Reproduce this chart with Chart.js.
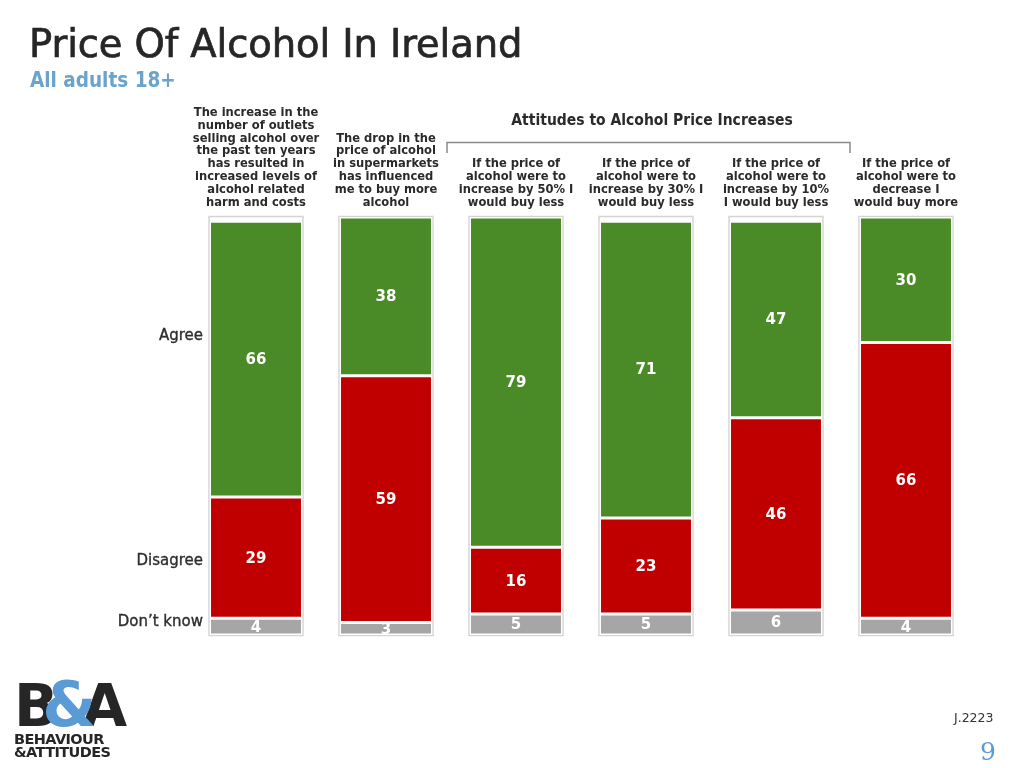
<!DOCTYPE html>
<html>
<head>
<meta charset="utf-8">
<script src="https://cdn.jsdelivr.net/npm/chart.js@4"></script>
<style>
  html, body { margin:0; padding:0; background:#fff; }
  body { width:1024px; height:768px; position:relative; overflow:hidden; font-family:"DejaVu Sans",sans-serif; }
  #c { position:absolute; left:0; top:0; }
  .t { position:absolute; white-space:nowrap; }
  #title { left:29px; top:21px; font-size:38.5px; color:#262626; letter-spacing:-0.1px; -webkit-text-stroke:0.7px #262626; }
  #sub { left:30px; top:68px; font-size:20.5px; font-weight:bold; color:#6aa3cc; font-family:"DejaVu Sans Condensed",sans-serif; }
  .side { right:821px; font-size:15px; color:#2e2e2e; font-family:"DejaVu Sans",sans-serif; -webkit-text-stroke:0.35px #2e2e2e; }
  #job { left:954px; top:710px; font-size:12.5px; color:#333; font-family:"DejaVu Sans",sans-serif; }
  #page { left:980px; top:737px; font-size:25px; color:#5b9bd5; font-family:"DejaVu Serif",serif; }
  #logo { left:14px; top:677px; }
  #logo .big { font-family:"DejaVu Sans",sans-serif; font-weight:bold; font-size:58px; line-height:56px; color:#262626; }
  #logo .big span { display:inline-block; }
  #logo .amp { color:#5b9bd5; margin-left:-16px; margin-right:-14px; position:relative; z-index:1; font-size:62px; }
  #logo .a { position:relative; z-index:0; }
  #logo .small { font-family:"DejaVu Sans",sans-serif; font-weight:bold; font-size:14.5px; line-height:12.5px; color:#262626; letter-spacing:-0.6px; margin-top:-1px; }
</style>
</head>
<body>
<canvas id="c" width="1024" height="768"></canvas>
<div class="t" id="title">Price Of Alcohol In Ireland</div>
<div class="t" id="sub">All adults 18+</div>
<div class="t side" style="top:326px">Agree</div>
<div class="t side" style="top:551px">Disagree</div>
<div class="t side" style="top:612px">Don’t know</div>
<div class="t" id="job">J.2223</div>
<div class="t" id="page">9</div>
<div class="t" id="logo">
  <div class="big"><span>B</span><span class="amp">&amp;</span><span class="a">A</span></div>
  <div class="small">BEHAVIOUR<br>&amp;ATTITUDES</div>
</div>
<script>
const categoryLines = [
  ["The increase in the","number of outlets","selling alcohol over","the past ten years","has resulted in","increased levels of","alcohol related","harm and costs"],
  ["The drop in the","price of alcohol","in supermarkets","has influenced","me to buy more","alcohol"],
  ["If the price of","alcohol were to","increase by 50% I","would buy less"],
  ["If the price of","alcohol were to","increase by 30% I","would buy less"],
  ["If the price of","alcohol were to","increase by 10%","I would buy less"],
  ["If the price of","alcohol were to","decrease I","would buy more"]
];
const agree    = [66, 38, 79, 71, 47, 30];
const disagree = [29, 59, 16, 23, 46, 66];
const dontKnow = [4, 3, 5, 5, 6, 4];
const groupHeader = "Attitudes to Alcohol Price Increases";
const groupRange = [2, 4]; // category indices under the bracket

const overlay = {
  id: 'overlay',
  beforeDatasetsDraw(chart) {
    const ctx = chart.ctx, a = chart.chartArea;
    const meta = chart.getDatasetMeta(0);
    ctx.save();
    meta.data.forEach(bar => {
      const w = bar.width;
      ctx.strokeStyle = '#d4d4d4';
      ctx.lineWidth = 1.5;
      ctx.strokeRect(bar.x - w/2 - 0.5, a.top - 0.5, w + 1, a.bottom - a.top + 1);
    });
    ctx.restore();
  },
  afterDatasetsDraw(chart) {
    const ctx = chart.ctx, a = chart.chartArea;
    ctx.save();
    // value labels
    ctx.font = 'bold 15px "DejaVu Sans", sans-serif';
    ctx.fillStyle = '#ffffff';
    ctx.textAlign = 'center';
    ctx.textBaseline = 'middle';
    chart.data.datasets.forEach((ds, di) => {
      chart.getDatasetMeta(di).data.forEach((bar, i) => {
        const yc = (bar.y + bar.base) / 2;
        ctx.fillText(String(ds.data[i]), bar.x, yc + 1);
      });
    });
    // category labels
    const xs = chart.scales.x;
    ctx.fillStyle = '#2a2a2a';
    ctx.font = 'bold 12.8px "DejaVu Sans Condensed", sans-serif';
    ctx.textBaseline = 'alphabetic';
    const lh = 12.9;
    categoryLines.forEach((lines, i) => {
      const x = xs.getPixelForValue(i);
      const n = lines.length;
      lines.forEach((ln, k) => {
        ctx.fillText(ln, x, 206 - (n - 1 - k) * lh);
      });
    });
    // bracket
    const x0 = xs.getPixelForValue(groupRange[0]) - 69;
    const x1 = xs.getPixelForValue(groupRange[1]) + 74;
    ctx.strokeStyle = '#8a8a8a';
    ctx.lineWidth = 1.5;
    ctx.beginPath();
    ctx.moveTo(x0, 153); ctx.lineTo(x0, 142.5); ctx.lineTo(x1, 142.5); ctx.lineTo(x1, 153);
    ctx.stroke();
    ctx.font = 'bold 15.5px "DejaVu Sans Condensed", sans-serif';
    ctx.fillStyle = '#2a2a2a';
    const xc = (xs.getPixelForValue(groupRange[0]) + xs.getPixelForValue(groupRange[1])) / 2 + 6;
    ctx.fillText(groupHeader, xc, 125);
    ctx.restore();
  }
};

new Chart(document.getElementById('c'), {
  type: 'bar',
  data: {
    labels: categoryLines.map(l => l.join(' ')),
    datasets: [
      { label: 'Don’t know', data: dontKnow, backgroundColor: '#a6a6a6' },
      { label: 'Disagree', data: disagree, backgroundColor: '#c00000' },
      { label: 'Agree', data: agree, backgroundColor: '#4a8a27' }
    ]
  },
  options: {
    responsive: false,
    animation: false,
    devicePixelRatio: 1,
    layout: { padding: { left: 191, right: 53, top: 217, bottom: 133 } },
    datasets: { bar: { barPercentage: 0.715, categoryPercentage: 1, borderColor: '#ffffff', borderWidth: 1.5, borderSkipped: false } },
    scales: {
      x: { stacked: true, display: false },
      y: { stacked: true, display: false, min: 0, max: 100 }
    },
    plugins: { legend: { display: false }, tooltip: { enabled: false } }
  },
  plugins: [overlay]
});
</script>
</body>
</html>
